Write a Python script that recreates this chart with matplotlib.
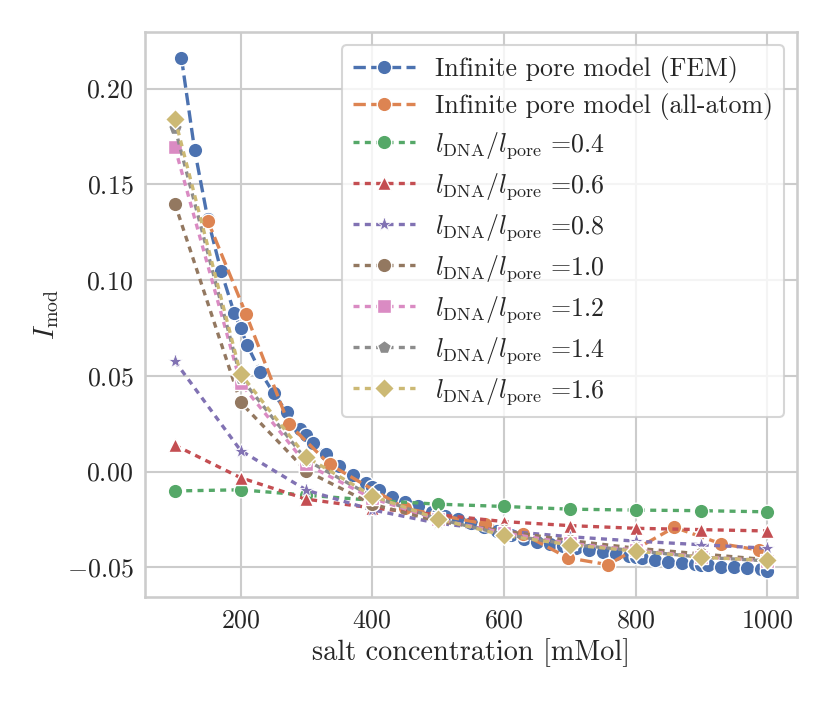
import matplotlib

matplotlib.use("Agg")
import matplotlib.pyplot as plt
import seaborn as sns

# infinite pore model, FEM
x_fem = [110, 130, 150, 170, 190, 200, 210, 230, 250, 270, 290, 300, 310, 330,
         350, 370, 390, 400, 410, 430, 450, 470, 490, 500, 510, 530, 550, 570,
         590, 600, 610, 630, 650, 670, 690, 700, 710, 730, 750, 770, 790, 800,
         810, 830, 850, 870, 890, 900, 910, 930, 950, 970, 990, 1000]
y_fem = [0.216, 0.168, 0.132, 0.105, 0.083, 0.075, 0.066, 0.052, 0.041, 0.031,
         0.022, 0.019, 0.015, 0.009, 0.003, -0.002, -0.006, -0.008, -0.0095,
         -0.013, -0.016, -0.018, -0.021, -0.022, -0.023, -0.025, -0.027, -0.029,
         -0.031, -0.032, -0.033, -0.035, -0.037, -0.038, -0.039, -0.040, -0.040,
         -0.041, -0.042, -0.043, -0.044, -0.0445, -0.045, -0.046, -0.047,
         -0.0475, -0.048, -0.049, -0.049, -0.050, -0.050, -0.0505, -0.051, -0.052]

# infinite pore model, all-atom
x_aa = [150, 208, 273, 335, 450, 571, 629, 697, 758, 859, 930, 988]
y_aa = [0.131, 0.0824, 0.0248, 0.0038, -0.0192, -0.0273, -0.0325, -0.045,
        -0.0486, -0.0291, -0.0377, -0.041]

# finite pore, l_DNA / l_pore ratios
x_len = [100, 200, 300, 400, 500, 600, 700, 800, 900, 1000]
ratios = ["0.4", "0.6", "0.8", "1.0", "1.2", "1.4", "1.6"]
y_04 = [-0.0101, -0.0095, -0.0123, -0.015, -0.017, -0.0182, -0.0196, -0.0201, -0.0204, -0.0210]
y_06 = [0.0138, -0.0032, -0.0144, -0.019, -0.0225, -0.0261, -0.0282, -0.0296, -0.0303, -0.0310]
y_08 = [0.0577, 0.011, -0.0097, -0.020, -0.027, -0.031, -0.034, -0.0363, -0.0382, -0.0400]
y_10 = [0.140, 0.0361, 0.0003, -0.017, -0.026, -0.031, -0.036, -0.040, -0.043, -0.046]
y_12 = [0.1694, 0.0461, 0.0038, -0.014, -0.025, -0.032, -0.0375, -0.041, -0.0445, -0.0465]
y_14 = [0.1796, 0.049, 0.006, -0.013, -0.0248, -0.0328, -0.038, -0.0413, -0.0447, -0.0466]
y_16 = [0.1844, 0.0510, 0.0076, -0.0127, -0.0247, -0.0333, -0.0382, -0.0415, -0.0447, -0.0464]
y_ratio = [y_04, y_06, y_08, y_10, y_12, y_14, y_16]

sns.set_theme(style="whitegrid", context="talk", font_scale=1.13)
plt.rcParams["font.family"] = "serif"
plt.rcParams["font.serif"] = ["cmr10", "DejaVu Serif"]
plt.rcParams["mathtext.fontset"] = "cm"
plt.rcParams["axes.formatter.use_mathtext"] = True
plt.rcParams["axes.unicode_minus"] = True

pal = sns.color_palette("deep")
markers = ["o", "^", "*", "o", "s", "p", "D"]
msizes = [10.5, 10.5, 11, 10.5, 10.5, 10.5, 10.5]
LW = 2.4

fig, ax = plt.subplots(figsize=(8.3, 7.03), dpi=100)
fig.subplots_adjust(left=0.175, right=0.960, top=0.954, bottom=0.151)

ax.plot(x_fem, y_fem, "--", lw=LW, marker="o", color=pal[0], ms=10.5, mec="white", mew=1,
        label="Infinite pore model (FEM)")
ax.plot(x_aa, y_aa, "--", lw=LW, marker="o", color=pal[1], ms=10.5, mec="white", mew=1,
        label="Infinite pore model (all-atom)")
for i, (r, ys) in enumerate(zip(ratios, y_ratio)):
    ax.plot(x_len, ys, lw=LW, linestyle=(0, (1.8, 1.6)), marker=markers[i],
            color=pal[2 + i], ms=msizes[i], mec="white", mew=0.6 if markers[i] == "*" else 1,
            label=r"$l_{\rm DNA}/l_{\rm pore}$ =" + r)

ax.set_xlabel("salt concentration [mMol]")
ax.set_ylabel(r"$I_{\rm mod}$")
ax.set_xticks([200, 400, 600, 800, 1000])
ax.set_yticks([-0.05, 0.0, 0.05, 0.10, 0.15, 0.20])
ax.tick_params(length=0, pad=8.5)
ax.legend(loc="upper right", handlelength=2.4, labelspacing=0.39)

fig.savefig("out.png", dpi=100)
